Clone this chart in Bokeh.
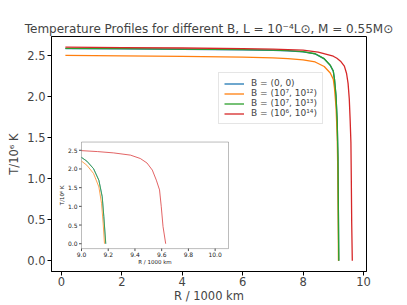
import math
from bokeh.plotting import figure
from bokeh.models import (Legend, LegendItem, FixedTicker, PrintfTickFormatter, Range1d,
                          BoxAnnotation)
from bokeh.core.properties import value
from bokeh.embed import file_html
from bokeh.resources import INLINE

# ---- data ----
r_b0 = [0.13, 2, 4, 6, 7, 7.5, 8, 8.4, 8.7, 8.9, 9.0, 9.04, 9.09, 9.13, 9.155, 9.167, 9.181]
t_b0 = [2.583, 2.580, 2.574, 2.568, 2.561, 2.555, 2.543, 2.518, 2.458, 2.378, 2.308, 2.208, 2.008, 1.698, 1.258, 0.728, 0.0]

r_b1 = [0.13, 2, 4, 6, 7, 7.5, 8, 8.4, 8.7, 8.9, 9.0, 9.04, 9.09, 9.13, 9.15, 9.162, 9.172]
t_b1 = [2.500, 2.495, 2.487, 2.478, 2.470, 2.460, 2.445, 2.420, 2.365, 2.285, 2.210, 2.100, 1.880, 1.520, 1.080, 0.550, 0.0]

r_b2 = [0.13, 2, 4, 6, 7, 7.5, 8, 8.4, 8.7, 8.9, 9.0, 9.04, 9.09, 9.13, 9.155, 9.167, 9.182]
t_b2 = [2.585, 2.582, 2.576, 2.570, 2.563, 2.557, 2.545, 2.520, 2.460, 2.380, 2.310, 2.210, 2.010, 1.700, 1.260, 0.730, 0.0]

r_b3 = [0.13, 2, 4, 6, 7, 8, 8.5, 9.0, 9.12, 9.24, 9.367, 9.44, 9.49, 9.53, 9.56, 9.584, 9.597, 9.61, 9.63]
t_b3 = [2.600, 2.595, 2.590, 2.582, 2.576, 2.563, 2.540, 2.490, 2.465, 2.430, 2.370, 2.280, 2.160, 1.970, 1.700, 1.440, 0.990, 0.460, 0.0]

series_r = [r_b0, r_b1, r_b2, r_b3]
series_t = [t_b0, t_b1, t_b2, t_b3]
labels = ["B = (0, 0)", "B = (10\u2077, 10\u00b9\u00b2)", "B = (10\u2077, 10\u00b9\u00b3)", "B = (10\u2076, 10\u00b9\u2074)"]
colors = ["#1f77b4", "#ff7f0e", "#2ca02c", "#d62728"]

x_ticks = [0, 2, 4, 6, 8, 10]
y_ticks = [0.0, 0.5, 1.0, 1.5, 2.0, 2.5]
inset_x_ticks = [9.0, 9.2, 9.4, 9.6, 9.8, 10.0]
inset_y_ticks = [0.0, 0.5, 1.0, 1.5, 2.0, 2.5]

title_text = "Temperature Profiles for different B, L = 10\u207b\u2074L\u2299, M = 0.55M\u2299"
x_label = "R / 1000 km"
y_label = "T/10\u2076 K"

FONT = "DejaVu Sans"

# ---- layout constants (pixels) ----
MAIN_X = (-0.33, 10.1)
MAIN_Y = (-0.13, 2.73)
INSET_X = (9.0, 10.1)
INSET_Y = (-0.13, 2.72)
W, H = 407, 305
BL, BR, BT, BB = 51, 41, 36, 33
FRAME_W, FRAME_H = W - BL - BR, H - BT - BB
# inset frame position inside the main frame (px from frame left / bottom)
IN_L, IN_R = 30, 177
IN_B, IN_T = 23, 130

# ---- main figure ----
p = figure(width=W, height=H, output_backend="svg", toolbar_location=None,
           x_range=Range1d(*MAIN_X), y_range=Range1d(*MAIN_Y),
           min_border_left=BL, min_border_right=BR, min_border_top=BT, min_border_bottom=BB,
           title=title_text)
p.title.text_font = FONT
p.title.text_font_size = "12px"
p.title.text_font_style = "normal"
p.title.align = "center"
p.title.standoff = 2
p.grid.visible = False
p.outline_line_color = "black"
p.outline_line_alpha = 1
p.background_fill_color = "white"
p.border_fill_color = "white"

for ax in (p.xaxis[0], p.yaxis[0]):
    ax.axis_line_color = "black"
    ax.major_tick_line_color = "black"
    ax.minor_tick_line_color = None
    ax.major_tick_in = 0
    ax.major_tick_out = 4
    ax.major_label_text_font = FONT
    ax.major_label_text_font_size = "11.5px"
    ax.axis_label_text_font = FONT
    ax.axis_label_text_font_size = "11.5px"
    ax.axis_label_text_font_style = "normal"
p.xaxis.major_label_standoff = 1
p.xaxis.axis_label_standoff = 0
p.yaxis.major_label_standoff = 2
p.yaxis.axis_label_standoff = 3
p.xaxis.ticker = FixedTicker(ticks=x_ticks)
p.yaxis.ticker = FixedTicker(ticks=y_ticks)
p.xaxis.formatter = PrintfTickFormatter(format="%d")
p.yaxis.formatter = PrintfTickFormatter(format="%.1f")
p.xaxis.axis_label = x_label
p.yaxis.axis_label = y_label

items = []
for r, t, c, lab in zip(series_r, series_t, colors, labels):
    rr = p.line(r, t, line_color=c, line_width=1.3)
    items.append(LegendItem(label=lab, renderers=[rr]))

legend = Legend(items=items, location=(167, 147), orientation="vertical")
legend.label_text_font = FONT
legend.label_text_font_size = "9px"
legend.glyph_width = 20
legend.glyph_height = 9
legend.label_height = 9
legend.label_standoff = 7
legend.spacing = 0
legend.padding = 5
legend.margin = 0
legend.border_line_color = "#cccccc"
legend.border_line_width = 1
legend.background_fill_alpha = 0.8
p.add_layout(legend)

# ---- inset drawn on extra ranges mapped onto a sub-rectangle of the frame ----
sx = (INSET_X[1] - INSET_X[0]) / (IN_R - IN_L)
sy = (INSET_Y[1] - INSET_Y[0]) / (IN_T - IN_B)
p.extra_x_ranges = {"ix": Range1d(INSET_X[0] - IN_L * sx, INSET_X[1] + (FRAME_W - IN_R) * sx)}
p.extra_y_ranges = {"iy": Range1d(INSET_Y[0] - IN_B * sy, INSET_Y[1] + (FRAME_H - IN_T) * sy)}

box = BoxAnnotation(left=INSET_X[0], right=INSET_X[1], bottom=INSET_Y[0], top=INSET_Y[1],
                    x_range_name="ix", y_range_name="iy", fill_color="white", fill_alpha=1,
                    line_color="#222222", line_width=1, level="underlay")
p.add_layout(box)

for r, t, c in zip(series_r, series_t, colors):
    rr = [a for a in r if a >= INSET_X[0]]
    tt = [b for a, b in zip(r, t) if a >= INSET_X[0]]
    p.line(rr, tt, line_color=c, line_width=0.9, line_alpha=0.8,
           x_range_name="ix", y_range_name="iy")

TICK = 2.5
# x ticks
p.segment(x0=inset_x_ticks, x1=inset_x_ticks,
          y0=[INSET_Y[0]] * len(inset_x_ticks), y1=[INSET_Y[0] - TICK * sy] * len(inset_x_ticks),
          line_color="#222222", line_width=0.8, x_range_name="ix", y_range_name="iy")
p.text(x=inset_x_ticks, y=[INSET_Y[0]] * len(inset_x_ticks),
       text=["%.1f" % v for v in inset_x_ticks], y_offset=3,
       text_font=value(FONT), text_font_size="6px", text_align="center", text_baseline="top",
       text_color="#222222", x_range_name="ix", y_range_name="iy")
# y ticks
p.segment(x0=[INSET_X[0]] * len(inset_y_ticks), x1=[INSET_X[0] - TICK * sx] * len(inset_y_ticks),
          y0=inset_y_ticks, y1=inset_y_ticks,
          line_color="#222222", line_width=0.8, x_range_name="ix", y_range_name="iy")
p.text(x=[INSET_X[0]] * len(inset_y_ticks), y=inset_y_ticks,
       text=["%.1f" % v for v in inset_y_ticks], x_offset=-4,
       text_font=value(FONT), text_font_size="6px", text_align="right", text_baseline="middle",
       text_color="#222222", x_range_name="ix", y_range_name="iy")
# inset axis labels
p.text(x=[(INSET_X[0] + INSET_X[1]) / 2], y=[INSET_Y[0]], text=[x_label], y_offset=10,
       text_font=value(FONT), text_font_size="5.5px", text_align="center", text_baseline="top",
       text_color="#222222", x_range_name="ix", y_range_name="iy")
p.text(x=[INSET_X[0]], y=[(INSET_Y[0] + INSET_Y[1]) / 2], text=[y_label], x_offset=-17,
       angle=math.pi / 2,
       text_font=value(FONT), text_font_size="5.5px", text_align="center", text_baseline="bottom",
       text_color="#222222", x_range_name="ix", y_range_name="iy")

open("out.html", "w").write(file_html(p, INLINE))
